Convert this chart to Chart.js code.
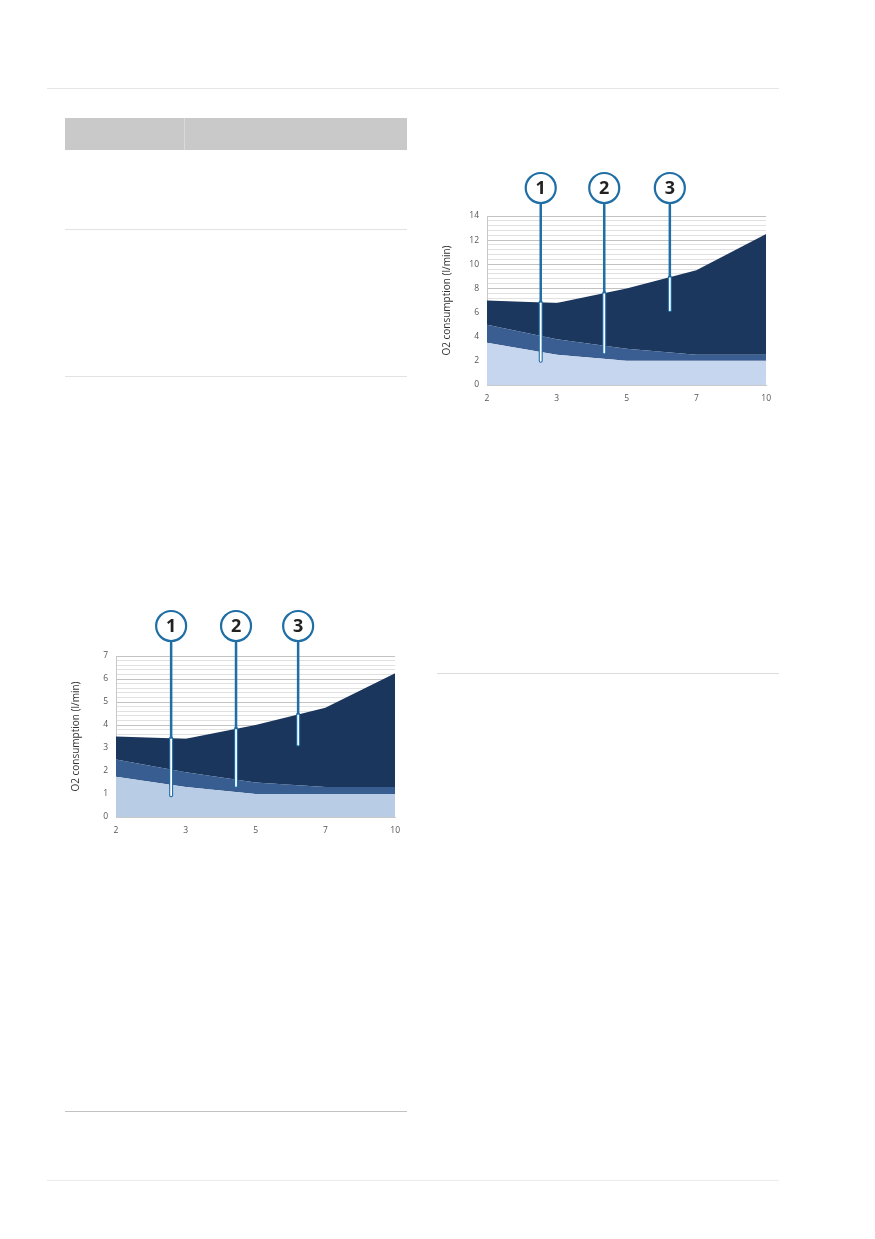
<!DOCTYPE html>
<html lang="en">
<head>
    <meta charset="UTF-8">
    <meta name="viewport" content="width=device-width, initial-scale=1.0">
    <title>O2 consumption</title>
    <script src="https://cdn.jsdelivr.net/npm/chart.js@4.4.0/dist/chart.umd.min.js"></script>
    <style>
        html, body {
            margin: 0;
            padding: 0;
            background: #fff;
        }
        body {
            position: relative;
            width: 875px;
            height: 1239px;
            overflow: hidden;
        }
        .rule {
            position: absolute;
            height: 1px;
        }
        .table-head {
            position: absolute;
            left: 65px;
            top: 118px;
            width: 342px;
            height: 32px;
            background: #c9c9c9;
        }
        .table-head .divider {
            position: absolute;
            left: 119px;
            top: 0;
            width: 1px;
            height: 32px;
            background: #dadada;
        }
        .chart-box {
            position: absolute;
            height: 245px;
        }
    </style>
</head>
<body>
    <div class="rule" style="left:47px; top:88px; width:732px; background:#e6e6e6"></div>
    <div class="table-head"><div class="divider"></div></div>
    <div class="rule" style="left:65px; top:229px; width:342px; background:#e3e3e3"></div>
    <div class="rule" style="left:65px; top:376px; width:342px; background:#e3e3e3"></div>
    <div class="rule" style="left:437px; top:673px; width:342px; background:#dcdcdc"></div>
    <div class="rule" style="left:65px; top:1111px; width:342px; background:#c2c2c2"></div>
    <div class="rule" style="left:47px; top:1180px; width:732px; background:#ebebeb"></div>

    <div class="chart-box" style="left:430px; top:165px; width:349px"><canvas id="chart-large"></canvas></div>
    <div class="chart-box" style="left:60px; top:603px; width:348px"><canvas id="chart-small"></canvas></div>

    <script>
        // x categories (speed) shared by both charts
        const speeds = ['2', '3', '5', '7', '10'];

        // upper right chart, stacked layers (l/min)
        const largeBase = [3.5, 2.5, 2.0, 2.0, 2.0];
        const largeMid = [1.5, 1.3, 1.0, 0.5, 0.5];
        const largeTop = [2.0, 3.0, 5.0, 7.0, 10.0];

        // lower left chart, stacked layers (l/min)
        const smallBase = [1.75, 1.3, 1.0, 1.0, 1.0];
        const smallMid = [0.75, 0.65, 0.5, 0.3, 0.3];
        const smallTop = [1.0, 1.45, 2.5, 3.45, 4.95];

        // callout markers: [category index, value] where each leader ends
        const calloutLabels = ['1', '2', '3'];
        const largeCallouts = [[0.77, 2.0], [1.68, 2.7], [2.62, 6.2]];
        const smallCallouts = [[0.79, 0.95], [1.72, 1.35], [2.61, 3.15]];

        const tickFont = { family: '"Open Sans", sans-serif', size: 8.5 };
        const calloutBlue = '#1f6ea6';

        function makeCallouts(points, lift) {
            return {
                id: 'callouts',
                afterDatasetsDraw(chart) {
                    const { ctx, chartArea, scales } = chart;
                    const r = 15;
                    const cy = chartArea.top - lift;
                    const topPts = chart.getDatasetMeta(chart.data.datasets.length - 1).data;
                    points.forEach((p, i) => {
                        const px = scales.x.getPixelForValue(p[0]);
                        const py = scales.y.getPixelForValue(p[1]);
                        // where the leader enters the filled area
                        const i0 = Math.floor(p[0]);
                        const t = p[0] - i0;
                        const fillTop = topPts[i0].y + (topPts[i0 + 1].y - topPts[i0].y) * t;

                        ctx.save();
                        ctx.lineCap = 'round';
                        ctx.strokeStyle = calloutBlue;
                        ctx.lineWidth = 2.5;
                        ctx.beginPath();
                        ctx.moveTo(px, cy + r);
                        ctx.lineTo(px, fillTop);
                        ctx.stroke();

                        ctx.lineWidth = 4;
                        ctx.beginPath();
                        ctx.moveTo(px, fillTop);
                        ctx.lineTo(px, py);
                        ctx.stroke();
                        ctx.strokeStyle = '#ffffff';
                        ctx.lineWidth = 1.8;
                        ctx.beginPath();
                        ctx.moveTo(px, fillTop + 1);
                        ctx.lineTo(px, py);
                        ctx.stroke();

                        ctx.beginPath();
                        ctx.arc(px, cy, r, 0, Math.PI * 2);
                        ctx.fillStyle = '#ffffff';
                        ctx.fill();
                        ctx.lineWidth = 2.2;
                        ctx.strokeStyle = calloutBlue;
                        ctx.stroke();

                        ctx.fillStyle = '#222222';
                        ctx.font = 'bold 18px "Open Sans", sans-serif';
                        ctx.textAlign = 'center';
                        ctx.textBaseline = 'middle';
                        ctx.fillText(calloutLabels[i], px, cy + 1);
                        ctx.restore();
                    });
                }
            };
        }

        function buildChart(id, layers, colors, yMax, major, minor, padding, callouts) {
            const isMajor = v => Math.abs(v / major - Math.round(v / major)) < 1e-6;
            return new Chart(document.getElementById(id), {
                type: 'line',
                data: {
                    labels: speeds,
                    datasets: layers.map((values, i) => ({
                        data: values,
                        backgroundColor: colors[i],
                        borderColor: 'transparent',
                        borderWidth: 0,
                        pointRadius: 0,
                        tension: 0,
                        fill: i === 0 ? 'origin' : '-1'
                    }))
                },
                options: {
                    responsive: true,
                    maintainAspectRatio: false,
                    animation: false,
                    layout: { padding: padding },
                    plugins: {
                        legend: { display: false },
                        tooltip: { enabled: false }
                    },
                    scales: {
                        x: {
                            offset: false,
                            grid: { display: false, drawTicks: false },
                            border: { display: true, color: '#c8c8c8', width: 1 },
                            ticks: { font: tickFont, color: '#555', padding: 8, maxRotation: 0 },
                            afterFit: scale => { scale.height = 25; }
                        },
                        y: {
                            stacked: true,
                            min: 0,
                            max: yMax,
                            grid: {
                                drawTicks: false,
                                lineWidth: 1,
                                color: c => (c.tick && isMajor(c.tick.value)) ? '#c2c2c2' : '#e1e1e1'
                            },
                            border: { display: true, color: '#c8c8c8', width: 1 },
                            ticks: {
                                stepSize: minor,
                                autoSkip: false,
                                font: tickFont,
                                color: '#555',
                                padding: 8,
                                callback: v => isMajor(v) ? String(Math.round(v)) : ''
                            },
                            title: {
                                display: true,
                                text: 'O2 consumption (l/min)',
                                color: '#333',
                                font: { family: '"Open Sans", sans-serif', size: 10 },
                                padding: { top: 4, bottom: 0 }
                            },
                            afterFit: scale => { scale.width = 50; }
                        }
                    }
                },
                plugins: [makeCallouts(callouts.points, callouts.lift)]
            });
        }

        buildChart('chart-large',
            [largeBase, largeMid, largeTop],
            ['#c6d6ee', '#3a5e91', '#1b375e'],
            14, 2, 0.4,
            { left: 7, right: 0, top: 51, bottom: 0 },
            { points: largeCallouts, lift: 28 });

        buildChart('chart-small',
            [smallBase, smallMid, smallTop],
            ['#b9cce5', '#385d90', '#1b365d'],
            7, 1, 0.2,
            { left: 6, right: 0, top: 53, bottom: 6 },
            { points: smallCallouts, lift: 30 });
    </script>
</body>
</html>
